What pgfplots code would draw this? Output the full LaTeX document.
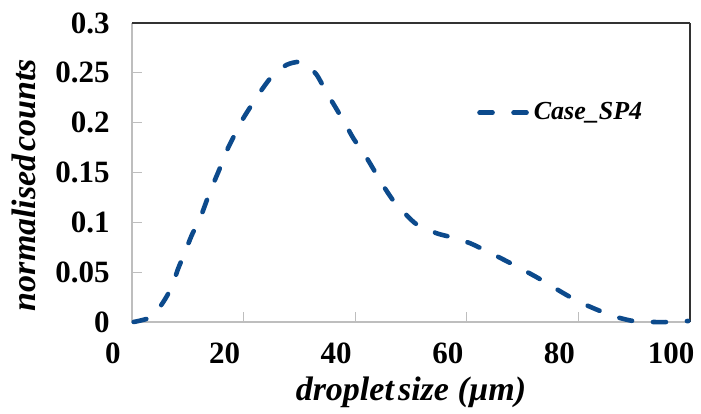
\documentclass[border=0pt]{standalone}
\usepackage{fontspec}
\setmainfont{Liberation Serif}
\usepackage{pgfplots}
\pgfplotsset{compat=1.18}
\definecolor{lineblue}{RGB}{12,74,140}
\definecolor{axgray}{RGB}{190,190,190}
\definecolor{axdark}{RGB}{50,50,50}
\begin{document}
\begin{tikzpicture}
\begin{axis}[
  scale only axis,
  width=279pt, height=149.5pt,
  xmin=0, xmax=100, ymin=0, ymax=0.3,
  xtick={0,20,...,100},
  ytick={0,0.05,...,0.3},
  axis line style={draw=none},
  tick style={axgray, line width=0.6pt},
  major tick length=5pt,
  tick align=inside,
  xtick pos=bottom, ytick pos=left,
  clip=false,
  /pgf/number format/assume math mode=true,
  yticklabel style={/pgf/number format/fixed, /pgf/number format/precision=2,
     font=\fontsize{15.5}{16}\selectfont\bfseries, anchor=east, inner sep=0pt, xshift=-11pt},
  xticklabel style={font=\fontsize{15.5}{16}\selectfont\bfseries, anchor=north, inner sep=0pt, yshift=-10pt, xshift=-9.5pt},
  scaled y ticks=false,
  xlabel={droplet\hspace{0.12em}size (µm)},
  ylabel={normalised\hspace{0.08em}counts},
  every axis x label/.style={at={([yshift=-39.5pt]rel axis cs:0.5,0)}, anchor=base, font=\fontsize{17}{18}\selectfont\bfseries\itshape},
  every axis y label/.style={at={([xshift=-48pt]rel axis cs:0,0.458)}, rotate=90, anchor=base, font=\fontsize{17}{18}\selectfont\bfseries\itshape},
  legend style={at={(rel axis cs:0.618,0.70)}, anchor=west, draw=none, fill=none,
     font=\fontsize{13}{14}\selectfont\bfseries\itshape, inner sep=0pt, legend cell align=left},
  legend image code/.code={\draw[#1] (0pt,0pt) -- (24pt,0pt);},
]
\draw[axgray, line width=0.8pt] (rel axis cs:0,0) -- (rel axis cs:1,0);
\draw[axgray, line width=0.8pt] (rel axis cs:0,0) -- (rel axis cs:0,1);
\draw[axdark, line width=0.8pt] (rel axis cs:0,1) -- (rel axis cs:1,1);
\draw[axdark, line width=0.8pt] (rel axis cs:1,0) -- (rel axis cs:1,1);
\coordinate (sw) at (rel axis cs:0,0);
\coordinate (ne) at (rel axis cs:1,1);
\addplot[lineblue, line width=2.3pt, line cap=round, dash pattern=on 6.5pt off 10.5pt, smooth, tension=0.4] coordinates {
(0.3,0) (3.5,0.005) (5.6,0.020) (7.1,0.035) (8.3,0.054) (9.5,0.070) (10.7,0.087)
(12.2,0.104) (13.4,0.122) (14.6,0.139) (15.8,0.155) (17.0,0.172) (18.5,0.189)
(19.9,0.204) (21.7,0.220) (23.5,0.235) (25.3,0.248) (27.7,0.258) (29.8,0.261)
(31.3,0.258) (33.1,0.248) (34.9,0.230) (36.4,0.216) (38.2,0.199) (39.7,0.184)
(41.8,0.167) (43.2,0.154) (45.0,0.137) (46.8,0.122) (48.9,0.109) (51.0,0.098)
(54.6,0.089) (57.3,0.085) (60.6,0.079) (63.6,0.071) (66.8,0.062) (69.2,0.055)
(72.5,0.045) (74.9,0.037) (77.9,0.027) (80.6,0.019) (83.9,0.011) (86.8,0.005)
(89.8,0.001) (93.1,0) (96.4,0) (99.7,0.001)
};
\addlegendentry{Case\_SP4}
\end{axis}
\pgfresetboundingbox
\path ([xshift=-66pt,yshift=-46pt]sw) rectangle ([xshift=5.5pt,yshift=11.5pt]ne);
\end{tikzpicture}
\end{document}
